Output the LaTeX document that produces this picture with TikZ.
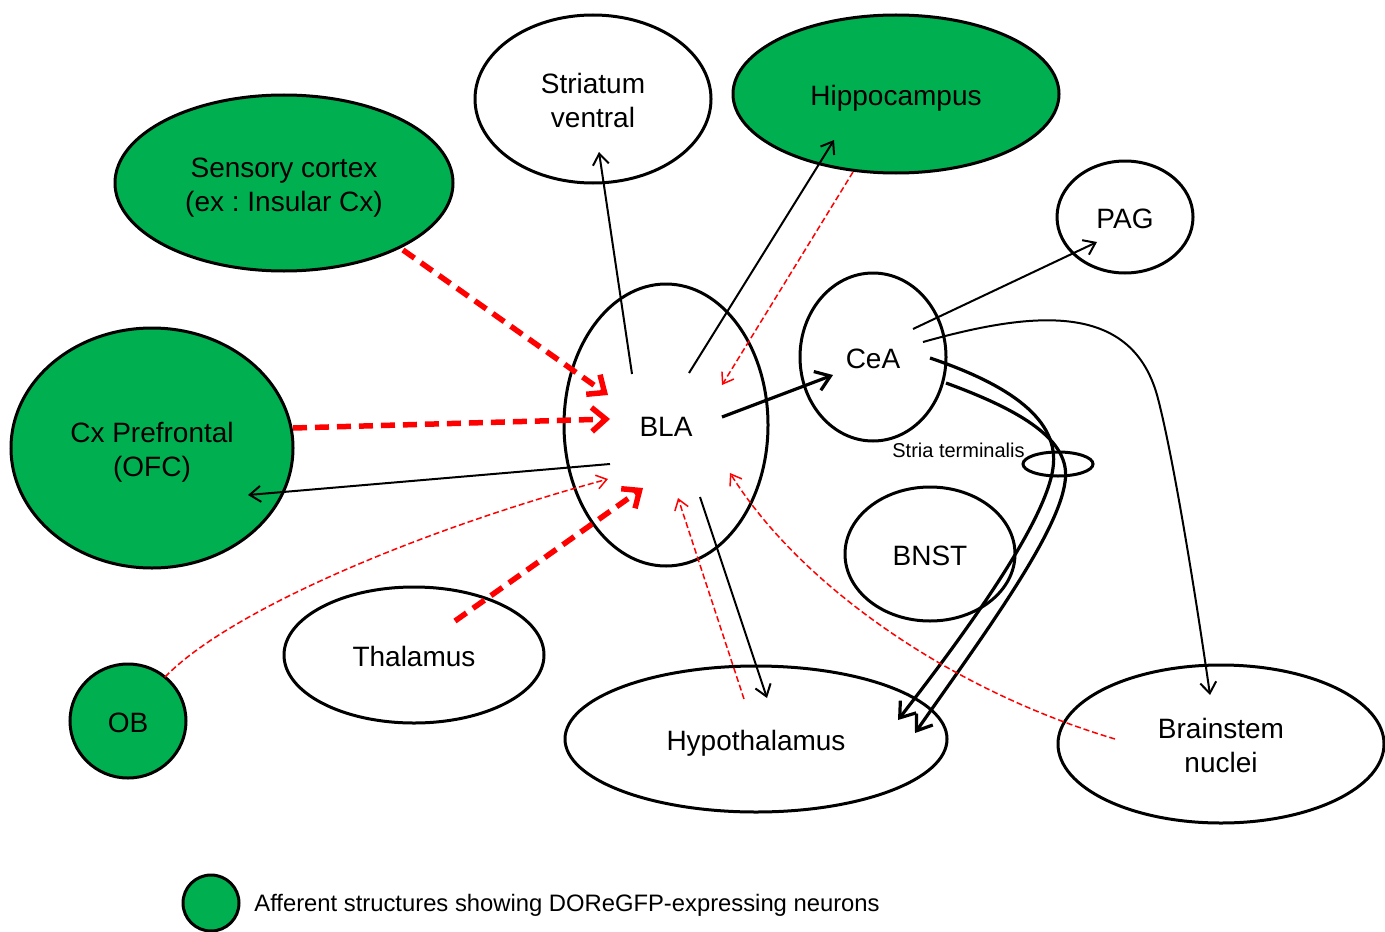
\documentclass[tikz,border=0pt]{standalone}
\usepackage{fontspec}
\setmainfont{Liberation Sans}
\usetikzlibrary{shapes.geometric,arrows.meta}
\definecolor{afgreen}{RGB}{0,176,80}
\definecolor{pathred}{RGB}{255,0,0}
\frenchspacing
\newcommand\regiontext[1]{\raisebox{-2.3pt}[\height][\depth]{\begin{tabular}{@{}c@{}}#1\end{tabular}}}
\begin{document}
\begin{tikzpicture}[x=0.5pt,y=-0.5pt,
  region/.style={ellipse,draw=black,line width=1.5pt,inner sep=0pt,align=center,font=\fontsize{14}{17}\selectfont},
  afferent/.style={region,fill=afgreen},
  efthin/.style={draw=black,line width=1pt,-{Straight Barb[length=5.5pt,width=8pt]}},
  efthick/.style={draw=black,line width=1.6pt,-{Straight Barb[length=7pt,width=10pt]}},
  afthick/.style={draw=pathred,line width=2.75pt,dash pattern=on 7pt off 4pt,-{Straight Barb[length=7pt,width=12pt]}},
  afthin/.style={draw=pathred,line width=0.75pt,dash pattern=on 3pt off 1.5pt,-{Straight Barb[length=5pt,width=7pt]}}
]
\useasboundingbox (0,0) rectangle (1385,931);
\fill[white] (0,0) rectangle (1385,931);

% regions
\node[region,minimum width=118pt,minimum height=84pt] (str) at (593,99) {\regiontext{Striatum\\ventral}};
\node[afferent,minimum width=163pt,minimum height=79pt] (hip) at (896,94) {\regiontext{Hippocampus}};
\node[afferent,minimum width=169pt,minimum height=88pt] (sens) at (284,183) {\regiontext{Sensory cortex\\(ex : Insular Cx)}};
\node[region,minimum width=68pt,minimum height=56pt] (pag) at (1125,217) {\regiontext{PAG}};
\node[region,minimum width=73pt,minimum height=84pt] (cea) at (873,357) {\regiontext{CeA}};
\node[region,minimum width=102pt,minimum height=141pt] (bla) at (666,425) {\regiontext{BLA}};
\node[afferent,minimum width=141pt,minimum height=120pt] (pfc) at (152,448) {\regiontext{Cx Prefrontal\\(OFC)}};
\node[region,minimum width=35pt,minimum height=12pt] (stria) at (1058,464) {};
\node[anchor=east,inner sep=0pt,font=\fontsize{10}{12}\selectfont] (strialab) at (1025,450) {Stria terminalis};
\node[region,minimum width=85pt,minimum height=67pt] (bnst) at (930,554) {\regiontext{BNST}};
\node[region,minimum width=130pt,minimum height=68pt] (thal) at (414,655) {\regiontext{Thalamus}};
\node[afferent,minimum width=58pt,minimum height=57pt] (ob) at (128,721) {\regiontext{OB}};
\node[region,minimum width=191pt,minimum height=73pt] (hypo) at (756,739) {\regiontext{Hypothalamus}};
\node[region,minimum width=163pt,minimum height=79pt] (brain) at (1221,744) {\regiontext{Brainstem\\nuclei}};

% legend
\node[afferent,minimum width=28pt,minimum height=28pt] (legcirc) at (211,903) {};
\node[anchor=base west,inner sep=0pt,font=\fontsize{11.9}{14}\selectfont] (legtext) at (254,911) {Afferent structures showing DOReGFP-expressing neurons};

% connector end points
\coordinate (s1) at (632,374); \coordinate (s2) at (599,152);
\coordinate (h1) at (689,373); \coordinate (h2) at (834,140);
\coordinate (p1) at (610,464); \coordinate (p2) at (248,495);
\coordinate (y1) at (700,497); \coordinate (y2) at (767,698);
\coordinate (c1) at (722,417); \coordinate (c2) at (833,375);
\coordinate (g1) at (913,329); \coordinate (g2) at (1097,242);
\coordinate (b1) at (923,342); \coordinate (b2) at (1210,695);
\coordinate (t1) at (930,358); \coordinate (t2) at (898,720);
\coordinate (u1) at (946,383); \coordinate (u2) at (915,733);
\coordinate (r1) at (403,250); \coordinate (r2) at (608,395);
\coordinate (r3) at (293,428); \coordinate (r4) at (610,419);
\coordinate (r5) at (455,621); \coordinate (r6) at (643,488);
\coordinate (d1) at (853,172); \coordinate (d2) at (722,385);
\coordinate (o1) at (165,677); \coordinate (o2) at (608,479);
\coordinate (e1) at (744,699); \coordinate (e2) at (678,498);
\coordinate (n1) at (1115,739); \coordinate (n2) at (730,473);

% efferents (black)
\draw[efthin] (s1) -- (s2);
\draw[efthin] (h1) -- (h2);
\draw[efthin] (p1) -- (p2);
\draw[efthin] (y1) -- (y2);
\draw[efthick] (c1) -- (c2);
\draw[efthin] (g1) -- (g2);
\draw[efthin] (b1) .. controls (1030,312) and (1130,300) .. (1157,395)
   .. controls (1172,450) and (1195,590) .. (b2);
\draw[efthick] (t1) .. controls (1010,385) and (1060,420) .. (1053,468)
   .. controls (1045,525) and (960,640) .. (t2);
\draw[efthick] (u1) .. controls (1020,410) and (1072,440) .. (1065,482)
   .. controls (1058,535) and (980,640) .. (u2);

% afferents (red)
\draw[afthick] (r1) -- (r2);
\draw[afthick] (r3) -- (r4);
\draw[afthick] (r5) -- (r6);
\draw[afthin] (d1) -- (d2);
\draw[afthin] (o1) .. controls (230,610) and (420,530) .. (o2);
\draw[afthin] (e1) -- (e2);
\draw[afthin] (n1) .. controls (950,690) and (800,585) .. (n2);
\end{tikzpicture}
\end{document}
